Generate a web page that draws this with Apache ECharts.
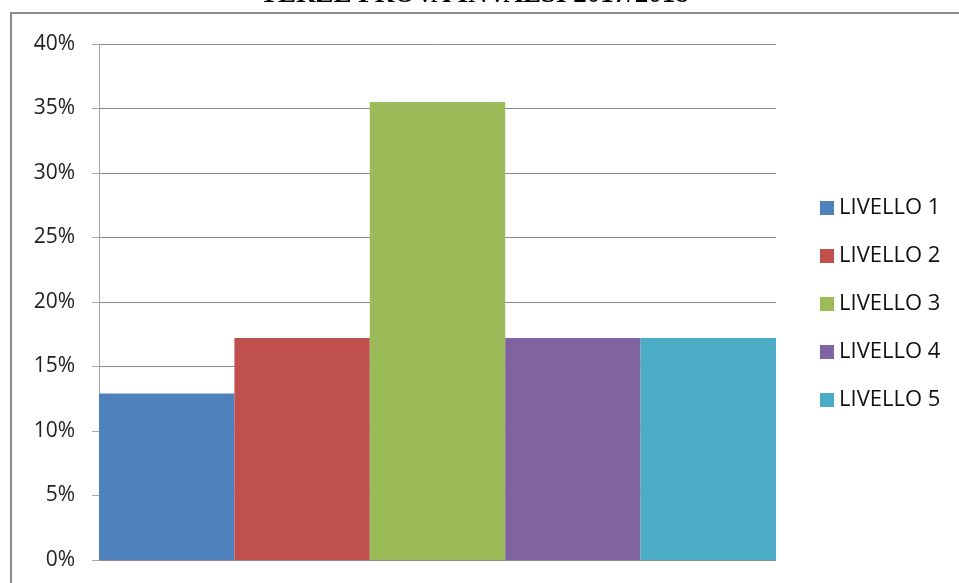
<!DOCTYPE html>
<html><head><meta charset="utf-8">
<script src="https://cdn.jsdelivr.net/npm/echarts@6/dist/echarts.min.js"></script>
<style>html,body{margin:0;padding:0;background:#fff}#c{width:959px;height:583px}</style>
</head><body><div id="c"></div>
<script>
const titleText = 'TERZE PROVA INVALSI 2017/2018';
const categories = [''];
const seriesNames = ['LIVELLO 1','LIVELLO 2','LIVELLO 3','LIVELLO 4','LIVELLO 5'];
const seriesValues = [12.9, 17.2, 35.5, 17.2, 17.2];
const seriesColors = ['#4F81BD','#C0504D','#9BBB59','#8064A2','#4BACC6'];

const chart = echarts.init(document.getElementById('c'));
chart.setOption({
  animation: false,
  title: {text: titleText, left: 255, top: -23, textStyle: {fontFamily: 'Liberation Serif', fontWeight: 'bold', fontSize: 27, color: '#000'}},
  graphic: [{type: 'rect', shape: {x: 11, y: 13, width: 1000, height: 700}, style: {fill: null, stroke: '#8c8c8c', lineWidth: 2}, z: -1}],
  grid: {left: 99, right: 183, top: 44, bottom: 23},
  legend: {
    orient: 'vertical', left: 815, top: 192, itemGap: 26, itemWidth: 14, itemHeight: 14,
    icon: 'rect',
    textStyle: {fontFamily: 'Open Sans', fontSize: 22, color: '#111'},
    data: seriesNames
  },
  xAxis: {type: 'category', data: categories, axisLine: {show: false}, axisTick: {show: false}, axisLabel: {show: false}},
  yAxis: {
    type: 'value', min: 0, max: 40, interval: 5,
    axisLine: {show: true, lineStyle: {color: '#a6a6a6', width: 1}},
    axisTick: {show: true, length: 7, lineStyle: {color: '#a6a6a6'}},
    axisLabel: {formatter: '{value}%', fontFamily: 'Open Sans', fontSize: 21, color: '#222', margin: 24},
    splitLine: {lineStyle: {color: '#8c8c8c', width: 1}}
  },
  series: seriesNames.map((n, i) => ({
    name: n, type: 'bar', data: [seriesValues[i]], barGap: '0%', barCategoryGap: '0%',
    itemStyle: {color: seriesColors[i]}
  }))
});
</script></body></html>
